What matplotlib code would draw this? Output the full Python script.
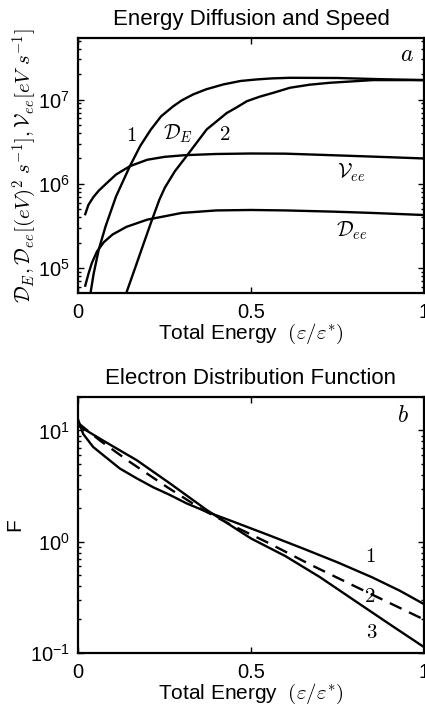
import matplotlib
matplotlib.use("Agg")
import matplotlib.pyplot as plt
import numpy as np

plt.rcParams['font.family'] = ['Liberation Sans', 'DejaVu Sans']
plt.rcParams['mathtext.fontset'] = 'cm'

# panel a: energy diffusion and speed (x = eps/eps*, y in eV units / s)
de1_x = [0.036, 0.045, 0.06, 0.08, 0.11, 0.15, 0.18, 0.21, 0.24, 0.275, 0.30, 0.333, 0.37, 0.42, 0.47, 0.516, 0.56, 0.613, 0.75, 0.88, 1.0]
de1_y = [5.0e4, 8.5e4, 1.66e5, 3.16e5, 7.1e5, 1.62e6, 2.82e6, 4.37e6, 6.31e6, 8.3e6, 9.77e6, 1.15e7, 1.32e7, 1.51e7, 1.66e7, 1.73e7, 1.78e7, 1.81e7, 1.80e7, 1.74e7, 1.70e7]

de2_x = [0.139, 0.163, 0.187, 0.211, 0.235, 0.251, 0.28, 0.314, 0.372, 0.43, 0.46, 0.488, 0.525, 0.564, 0.613, 0.67, 0.728, 0.853, 1.0]
de2_y = [5.0e4, 9.5e4, 1.82e5, 3.47e5, 6.46e5, 9.0e5, 1.41e6, 2.14e6, 4.42e6, 6.92e6, 8.13e6, 9.55e6, 1.08e7, 1.20e7, 1.38e7, 1.50e7, 1.58e7, 1.70e7, 1.70e7]

vee_x = [0.021, 0.03, 0.044, 0.06, 0.083, 0.11, 0.15, 0.2, 0.25, 0.31, 0.4, 0.5, 0.6, 0.7, 0.8, 0.9, 1.0]
vee_y = [4.37e5, 5.62e5, 6.92e5, 8.3e5, 1.02e6, 1.29e6, 1.62e6, 1.93e6, 2.09e6, 2.19e6, 2.26e6, 2.29e6, 2.28e6, 2.21e6, 2.14e6, 2.07e6, 2.0e6]

dee_x = [0.021, 0.03, 0.04, 0.055, 0.075, 0.1, 0.14, 0.2, 0.3, 0.4, 0.5, 0.6, 0.74, 0.85, 1.0]
dee_y = [6.2e4, 8.5e4, 1.15e5, 1.58e5, 2.04e5, 2.51e5, 3.09e5, 3.76e5, 4.52e5, 4.84e5, 4.90e5, 4.84e5, 4.68e5, 4.52e5, 4.27e5]

# panel b: electron distribution function
f1_x = [0.0, 0.015, 0.044, 0.073, 0.121, 0.17, 0.218, 0.266, 0.314, 0.372, 0.45, 0.55, 0.65, 0.75, 0.85, 0.93, 1.0]
f1_y = [12.6, 9.3, 7.1, 6.0, 4.55, 3.71, 3.08, 2.63, 2.21, 1.86, 1.51, 1.15, 0.87, 0.653, 0.479, 0.363, 0.275]

f2_x = [0.0, 0.064, 0.15, 0.256, 0.361, 0.45, 0.55, 0.671, 0.8, 0.9, 1.0]
f2_y = [11.7, 8.1, 5.21, 3.12, 1.93, 1.38, 0.977, 0.624, 0.398, 0.282, 0.20]

f3_x = [0.0, 0.073, 0.17, 0.266, 0.372, 0.5, 0.6, 0.7, 0.8, 0.9, 1.0]
f3_y = [11.1, 8.1, 5.4, 3.34, 1.93, 1.07, 0.741, 0.479, 0.295, 0.182, 0.113]

lw = 1.7
fig = plt.figure(figsize=(4.25, 7.07), dpi=100)
ax1 = fig.add_axes([0.1835, 0.5849, 0.8141, 0.3614])
ax2 = fig.add_axes([0.1835, 0.0764, 0.8141, 0.3621])

ax1.plot(de1_x, de1_y, color='k', lw=lw)
ax1.plot(de2_x, de2_y, color='k', lw=lw)
ax1.plot(vee_x, vee_y, color='k', lw=lw)
ax1.plot(dee_x, dee_y, color='k', lw=lw)
ax1.set_yscale('log')
ax1.set_xlim(0, 1)
ax1.set_ylim(10**4.70, 10**7.73)
ax1.set_title('Energy Diffusion and Speed', fontsize=16, pad=9)
ax1.set_xlabel(r'Total Energy  $(\varepsilon/\varepsilon^{*})$', fontsize=15, labelpad=0)
ax1.set_ylabel(r'$\mathcal{D}_E,\mathcal{D}_{ee}[(eV)^2\ s^{-1}],\mathcal{V}_{ee}[eV\ s^{-1}]$',
               fontsize=15, labelpad=-1)
ax1.text(0.155, 10**6.57, r'$1$', fontsize=15, ha='center', va='center')
ax1.text(0.29, 10**6.59, r'$\mathcal{D}_E$', fontsize=15, ha='center', va='center')
ax1.text(0.425, 10**6.59, r'$2$', fontsize=15, ha='center', va='center')
ax1.text(0.791, 10**6.13, r'$\mathcal{V}_{ee}$', fontsize=15, ha='center', va='center')
ax1.text(0.791, 10**5.44, r'$\mathcal{D}_{ee}$', fontsize=15, ha='center', va='center')
ax1.text(0.952, 10**7.53, r'$a$', fontsize=17, ha='center', va='center')

ax2.plot(f1_x, f1_y, color='k', lw=lw)
ax2.plot(f2_x, f2_y, color='k', lw=lw, dashes=(5.5, 3.5))
ax2.plot(f3_x, f3_y, color='k', lw=lw)
ax2.set_yscale('log')
ax2.set_xlim(0, 1)
ax2.set_ylim(0.1, 20)
ax2.set_title('Electron Distribution Function', fontsize=16, pad=9)
ax2.set_xlabel(r'Total Energy  $(\varepsilon/\varepsilon^{*})$', fontsize=15, labelpad=0)
ax2.set_ylabel('F', fontsize=15, labelpad=4)
ax2.text(0.844, 10**-0.131, r'$1$', fontsize=15, ha='center', va='center')
ax2.text(0.844, 10**-0.488, r'$2$', fontsize=15, ha='center', va='center')
ax2.text(0.849, 10**-0.815, r'$3$', fontsize=15, ha='center', va='center')
ax2.text(0.94, 10**1.134, r'$b$', fontsize=17, ha='center', va='center')

for ax in (ax1, ax2):
    ax.set_xticks([0, 0.5, 1])
    ax.set_xticklabels(['0', '0.5', '1'])
    ax.tick_params(which='both', direction='in', top=True, right=True, labelsize=14.5, width=1.0)
    ax.tick_params(which='major', length=4)
    ax.tick_params(which='minor', length=2)
    ax.tick_params(axis='x', pad=7)
    ax.tick_params(axis='y', pad=6)
    for s in ax.spines.values():
        s.set_linewidth(1.6)

fig.savefig('out.png', dpi=100)
